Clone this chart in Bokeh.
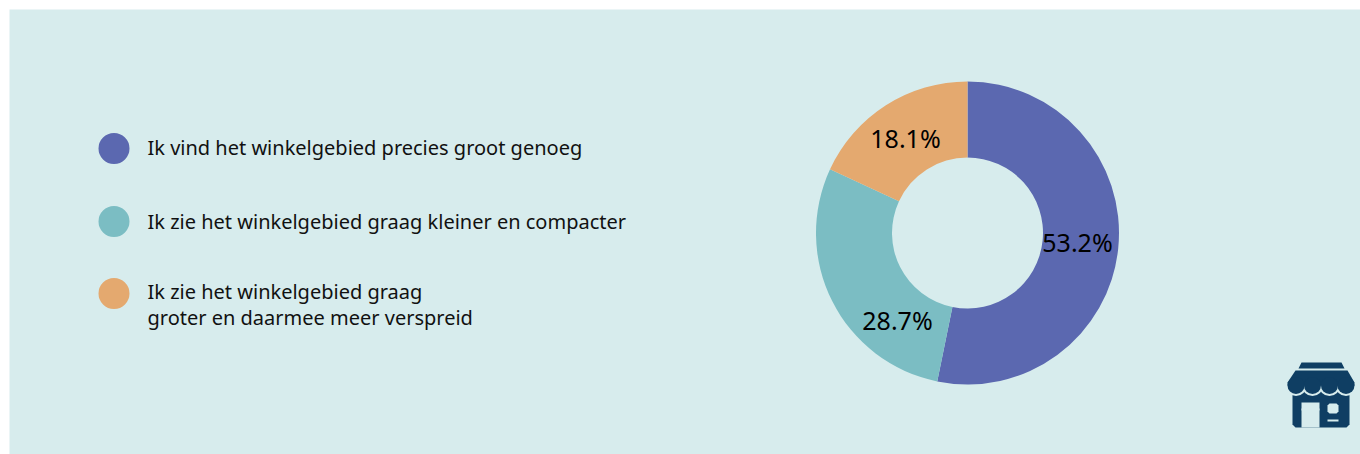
import math
from bokeh.plotting import figure
from bokeh.models import Range1d
from bokeh.core.properties import value
from bokeh.embed import file_html
from bokeh.resources import INLINE

categories = ["Ik vind het winkelgebied precies groot genoeg",
              "Ik zie het winkelgebied graag kleiner en compacter",
              "Ik zie het winkelgebied graag\ngroter en daarmee meer verspreid"]
shares = [53.2, 28.7, 18.1]
labels = ["53.2%", "28.7%", "18.1%"]
colors = ["#5B68B0", "#7BBDC3", "#E4A96F"]

BG = "#D7ECED"
INK = "#0F3E63"
FONT = value("Noto Sans")
W, H = 1360, 454
p = figure(width=W, height=H, output_backend="svg", toolbar_location=None,
           x_range=Range1d(9, W), y_range=Range1d(H, 9),
           min_border_left=9, min_border_top=9, min_border_right=0, min_border_bottom=0)
p.axis.visible = False
p.grid.visible = False
p.outline_line_color = None
p.background_fill_color = BG
p.border_fill_color = "white"

# donut, clockwise from 12 o'clock
cx, cy, r_out, r_in = 967, 232.5, 151.5, 75.5
label_offset = [(110, 9), (-70, 87), (-62, -95)]
start = math.pi / 2
for s, col in zip(shares, colors):
    end = start - s / 100 * 2 * math.pi
    p.annular_wedge([cx], [cy], inner_radius=r_in, outer_radius=r_out, start_angle=start, end_angle=end,
                    direction="clock", color=col, line_color=None)
    start = end
for lab, off in zip(labels, label_offset):
    p.text([cx + off[0]], [cy + off[1]], text=[lab],
           text_align="center", text_baseline="middle", text_font=FONT,
           text_font_size="25px", text_color="black")

# legend
ly = [148, 221, 293]
ty = [[147], [221], [291, 317]]
tx = 147
for c, col, y, tys in zip(categories, colors, ly, ty):
    p.scatter([113.5], [y], size=31, color=col, line_color=None)
    for line, yy in zip(c.split("\n"), tys):
        p.text([tx], [yy], text=[line], text_align="left", text_baseline="middle",
               text_font=FONT, text_font_size="20px", text_color="#111111")

# shop icon
scallops = [1295.5, 1312, 1329, 1345.5]
# body
p.patch([1292, 1349, 1349, 1346, 1295, 1292], [385, 385, 424, 427, 427, 424], color=INK, line_color=None)
# bg gap under the awning
for x in scallops:
    p.scatter([x], [385], size=21, color=BG, line_color=None)
# top bar
p.patch([1301, 1341, 1344, 1298], [362, 362, 368, 368], color=INK, line_color=None)
# awning
p.patch([1295, 1347, 1354, 1354, 1287, 1287], [370, 370, 382, 385, 385, 382], color=INK, line_color=None)
for x in scallops:
    p.scatter([x], [385], size=17, color=INK, line_color=None)
# door, window and slot
p.patch([1301, 1319, 1319, 1301], [408, 408, 427, 427], color=BG, line_color=None)
p.patch([1307, 1313, 1319, 1319, 1301, 1301], [402, 402, 402, 410, 410, 402], color=BG, line_color=None)
p.patch([1329, 1336, 1338, 1338, 1336, 1329, 1327, 1327], [403, 403, 405, 411, 413, 413, 411, 405], color=BG, line_color=None)
p.patch([1327, 1338, 1338, 1327], [419, 419, 421, 421], color=BG, line_color=None)

open("out.html", "w").write(file_html(p, INLINE))
